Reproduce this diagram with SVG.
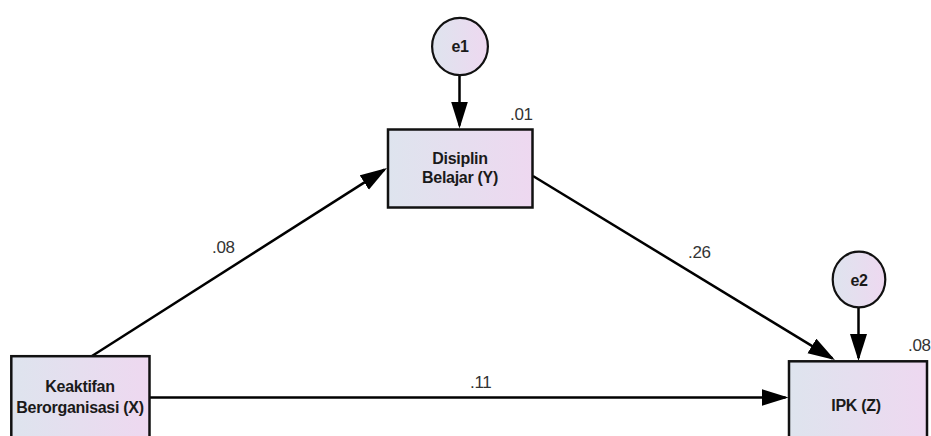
<svg xmlns="http://www.w3.org/2000/svg" width="931" height="436" viewBox="0 0 931 436">
  <defs>
    <linearGradient id="fillGrad" x1="0" y1="0" x2="1" y2="0">
      <stop offset="0" stop-color="#dee4ee"/>
      <stop offset="1" stop-color="#eed8f0"/>
    </linearGradient>
    <marker id="arrow" markerUnits="userSpaceOnUse" markerWidth="30" markerHeight="18" refX="24" refY="8.5" orient="auto">
      <path d="M0,0 L27,8.5 L0,17 Z" fill="#000"/>
    </marker>
    <style>
      .box { fill: url(#fillGrad); stroke: #111; stroke-width: 2.5; }
      .err { fill: url(#fillGrad); stroke: #111; stroke-width: 2.2; }
      .label { font-family: "Liberation Sans", Arial, sans-serif; font-size: 16px; font-weight: bold; letter-spacing: -0.3px; fill: #1a1a1a; text-anchor: middle; }
      .coef { font-family: "Liberation Sans", Arial, sans-serif; font-size: 17px; letter-spacing: -0.3px; fill: #333; }
      .edge { fill: none; stroke: #000; stroke-width: 2.5; marker-end: url(#arrow); }
    </style>
  </defs>
  <rect width="931" height="436" fill="#fff"/>

  <!-- paths -->
  <g id="connectors">
    <path class="edge" d="M92,356 L384.5,169.6"/>
    <path class="edge" d="M533,176 L832.4,358.4"/>
    <path class="edge" d="M150,397.5 L785.5,397.5"/>
    <path class="edge" d="M459.5,75 L459.5,125.5"/>
    <path class="edge" d="M858.5,307 L858.5,358"/>
  </g>

  <!-- path coefficients -->
  <g id="coefficients">
    <text class="coef" x="212" y="253">.08</text>
    <text class="coef" x="688" y="258">.26</text>
    <text class="coef" x="470" y="388">.11</text>
  </g>

  <g id="e1">
    <ellipse class="err" cx="460" cy="46.5" rx="27.9" ry="28.6"/>
    <text class="label" x="460" y="52">e1</text>
  </g>

  <g id="e2">
    <ellipse class="err" cx="859" cy="279.5" rx="26.3" ry="27.8"/>
    <text class="label" x="859" y="285.5">e2</text>
  </g>

  <g id="disiplin">
    <rect class="box" x="388" y="129.5" width="144.5" height="78"/>
    <text class="label" x="460" y="164">Disiplin</text>
    <text class="label" x="460" y="183">Belajar (Y)</text>
    <text class="coef" x="510" y="120">.01</text>
  </g>

  <g id="keaktifan">
    <rect class="box" x="11.3" y="356.2" width="138.2" height="90"/>
    <text class="label" x="80" y="392">Keaktifan</text>
    <text class="label" x="80" y="413">Berorganisasi (X)</text>
  </g>

  <g id="ipk">
    <rect class="box" x="789" y="361.3" width="138" height="90"/>
    <text class="label" x="856" y="411">IPK (Z)</text>
    <text class="coef" x="908" y="350.5">.08</text>
  </g>
</svg>
